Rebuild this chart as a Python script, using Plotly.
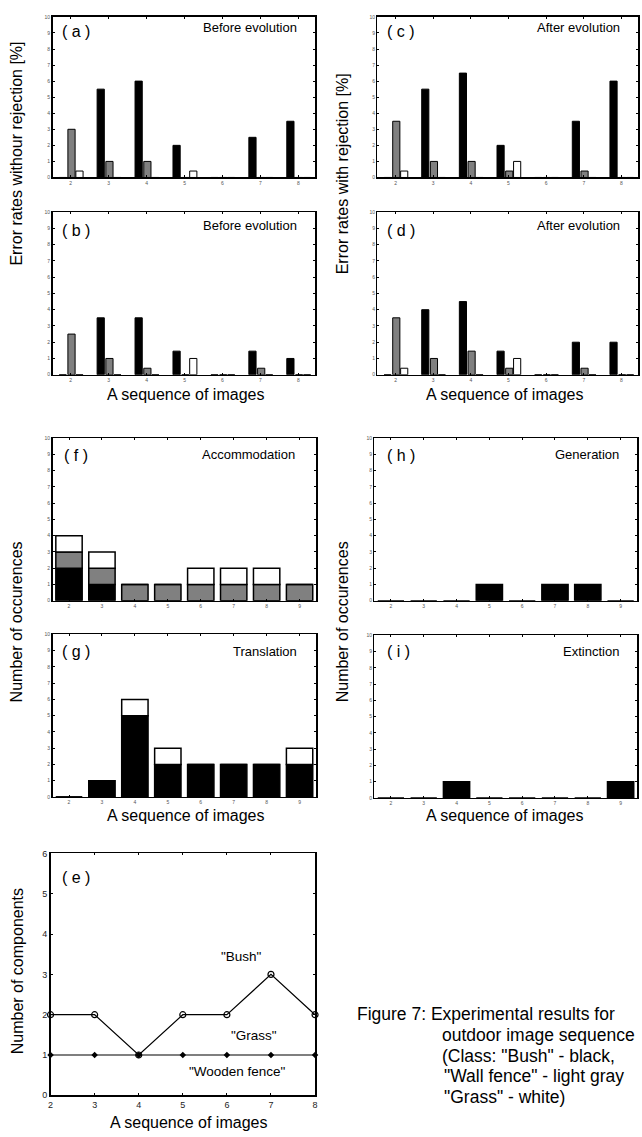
import numpy as np
import plotly.graph_objects as go

W, H = 642, 1137

# ---------------- data ----------------
seq7 = [2, 3, 4, 5, 6, 7, 8]
seq8 = [2, 3, 4, 5, 6, 7, 8, 9]

# (a) before evolution, without rejection
a_bush = [0, 5.5, 6.0, 2.0, 0, 2.5, 3.5]
a_wall = [3.0, 1.0, 1.0, 0, 0, 0, 0]
a_grass = [0.4, 0, 0, 0.4, 0, 0, 0]
# (c) after evolution, without rejection
c_bush = [0, 5.5, 6.5, 2.0, 0, 3.5, 6.0]
c_wall = [3.5, 1.0, 1.0, 0.4, 0, 0.4, 0]
c_grass = [0.4, 0, 0, 1.0, 0, 0, 0]
# (b) before evolution, with rejection
b_bush = [0, 3.5, 3.5, 1.45, 0, 1.45, 1.0]
b_wall = [2.5, 1.0, 0.4, 0, 0, 0.4, 0]
b_grass = [0, 0, 0, 1.0, 0, 0, 0]
# (d) after evolution, with rejection
d_bush = [0, 4.0, 4.5, 1.45, 0, 2.0, 2.0]
d_wall = [3.5, 1.0, 1.45, 0.4, 0, 0.4, 0]
d_grass = [0.4, 0, 0, 1.0, 0, 0, 0]

# (f) accommodation (stacked)
f_bush = [2, 1, 0, 0, 0, 0, 0, 0]
f_wall = [1, 1, 1, 1, 1, 1, 1, 1]
f_grass = [1, 1, 0, 0, 1, 1, 1, 0]
# (g) translation (stacked)
g_bush = [0, 1, 5, 2, 2, 2, 2, 2]
g_grass = [0, 0, 1, 1, 0, 0, 0, 1]
# (h) generation, (i) extinction
h_bush = [0, 0, 0, 1, 0, 1, 1, 0]
i_bush = [0, 0, 1, 0, 0, 0, 0, 1]

# (e) number of components
e_bush = [2, 2, 1, 2, 2, 3, 2]
e_grass = [1, 1, 1, 1, 1, 1, 1]
e_fence = [1, 1, 1, 1, 1, 1, 1]

BLACK, GRAY, WHITE = "#000000", "#808080", "#ffffff"
FONT = "Liberation Sans, Arial, sans-serif"

fig = go.Figure()


def px_x(p):
    return p / W


def px_y(p):
    return 1 - p / H


panels = {
    # name: (x0, x1, ytop, ybottom) in pixels
    "a": (50, 315, 12, 174),
    "c": (378, 641, 12, 174),
    "b": (50, 315, 209, 373),
    "d": (378, 641, 209, 373),
    "f": (50, 316, 437, 601),
    "h": (375, 640, 437, 601),
    "g": (50, 316, 635, 799),
    "i": (375, 640, 636, 800),
    "e": (48, 315, 856, 1100),
}

layout_axes = {}
refs = {}
for k, name in enumerate(["a", "c", "b", "d", "f", "h", "g", "i", "e"]):
    n = k + 1
    xa = "xaxis" if n == 1 else f"xaxis{n}"
    ya = "yaxis" if n == 1 else f"yaxis{n}"
    xr = "x" if n == 1 else f"x{n}"
    yr = "y" if n == 1 else f"y{n}"
    refs[name] = (xr, yr)
    x0, x1, yt, yb = panels[name]
    if name in "acbd":
        xrange = [1.52, 8.44]
        xt = seq7
        yrange = [0, 10]
        yt_vals = list(range(0, 11))
        tf = 5
    elif name in "fhgi":
        xrange = [1.5, 9.5]
        xt = seq8
        yrange = [0, 10]
        yt_vals = list(range(0, 11))
        tf = 5
    else:
        xrange = [2, 8]
        xt = seq7
        yrange = [0, 6]
        yt_vals = list(range(0, 7))
        tf = 9
    tcol = "#555555" if tf < 8 else "#222222"
    layout_axes[xa] = dict(
        domain=[px_x(x0), px_x(x1)], anchor=yr, range=xrange,
        tickvals=xt, ticks="inside", ticklen=2, tickcolor="black",
        showline=True, linecolor="black", linewidth=1.5, mirror="allticks",
        showgrid=False, zeroline=False,
        tickfont=dict(size=tf, color=tcol, family=FONT),
    )
    layout_axes[ya] = dict(
        domain=[px_y(yb), px_y(yt)], anchor=xr, range=yrange,
        tickvals=yt_vals, ticks="inside", ticklen=2, tickcolor="black",
        showline=True, linecolor="black", linewidth=1.5, mirror="allticks",
        showgrid=False, zeroline=False,
        tickfont=dict(size=tf, color=tcol, family=FONT),
    )

# grouped error-rate bars
BW = 0.19
offsets = [-0.305, -0.075, 0.135]
for name, series in [("a", (a_bush, a_wall, a_grass)),
                     ("c", (c_bush, c_wall, c_grass)),
                     ("b", (b_bush, b_wall, b_grass)),
                     ("d", (d_bush, d_wall, d_grass))]:
    xr, yr = refs[name]
    for vals, col, off in zip(series, (BLACK, GRAY, WHITE), offsets):
        fig.add_trace(go.Bar(
            x=seq7, y=vals, width=BW, offset=off, xaxis=xr, yaxis=yr,
            marker=dict(color=col, line=dict(color="black", width=1)),
            showlegend=False))

# stacked occurrence bars
SW = 0.8


def stacked(name, layers):
    xr, yr = refs[name]
    base = np.zeros(len(seq8))
    for vals, col in layers:
        v = np.array(vals, dtype=float)
        fig.add_trace(go.Bar(
            x=seq8, y=v, base=base.copy(), width=SW, xaxis=xr, yaxis=yr,
            marker=dict(color=col, line=dict(color="black", width=1.5)),
            showlegend=False))
        base = base + v


stacked("f", [(f_bush, BLACK), (f_wall, GRAY), (f_grass, WHITE)])
stacked("g", [(g_bush, BLACK), (g_grass, WHITE)])
stacked("h", [(h_bush, BLACK)])
stacked("i", [(i_bush, BLACK)])

# line plot (e)
xr, yr = refs["e"]
fig.add_trace(go.Scatter(x=seq7, y=e_fence, mode="lines", xaxis=xr, yaxis=yr,
                         line=dict(color="black", width=1.2), showlegend=False,
                         cliponaxis=False))
fig.add_trace(go.Scatter(x=seq7, y=e_grass, mode="markers", xaxis=xr, yaxis=yr,
                         marker=dict(symbol="diamond", size=5, color="black"),
                         showlegend=False, cliponaxis=False))
fig.add_trace(go.Scatter(x=seq7, y=e_bush, mode="lines+markers", xaxis=xr, yaxis=yr,
                         line=dict(color="black", width=1.2),
                         marker=dict(symbol="circle-open", size=6, color="black",
                                     line=dict(width=1.2)),
                         showlegend=False, cliponaxis=False))

ann = []


def text(x, y, s, size=12, xanchor="left", angle=0):
    ann.append(dict(x=px_x(x), y=px_y(y), xref="paper", yref="paper", text=s,
                    showarrow=False, xanchor=xanchor, yanchor="middle",
                    textangle=angle, font=dict(size=size, color="black", family=FONT)))


# panel labels and titles
for lab, (x, y) in {"( a )": (58, 27), "( b )": (58, 227), "( c )": (386, 27),
                    "( d )": (386, 227), "( f )": (60, 455), "( h )": (386, 455),
                    "( g )": (58, 652), "( i )": (386, 652), "( e )": (58, 880)}.items():
    text(x, y, lab, size=16)
TS = 13
text(299, 23, "Before evolution", TS, "right")
text(299, 222, "Before evolution", TS, "right")
text(625, 23, "After evolution", TS, "right")
text(625, 222, "After evolution", TS, "right")
text(297, 453, "Accommodation", TS, "right")
text(624, 453, "Generation", TS, "right")
text(299, 652, "Translation", TS, "right")
text(624, 652, "Extinction", TS, "right")

# axis titles
AS = 16
text(14, 150, "Error rates withour rejection [%]", AS, "center", -90)
text(343, 170, "Error rates with rejection [%]", AS, "center", -90)
text(184, 393, "A sequence of images", AS, "center")
text(506, 393, "A sequence of images", AS, "center")
text(14, 622, "Number of occurences", AS, "center", -90)
text(343, 622, "Number of occurences", AS, "center", -90)
text(184, 818, "A sequence of images", AS, "center")
text(506, 818, "A sequence of images", AS, "center")
text(15, 975, "Number of components", AS, "center", -90)
text(187, 1127, "A sequence of images", AS, "center")

# line labels in (e)
text(241, 960, "\"Bush\"", 13.5, "center")
text(253, 1040, "\"Grass\"", 13.5, "center")
text(237, 1076, "\"Wooden fence\"", 13.5, "center")

# caption
CS = 17.5
text(355, 1018, "Figure 7: Experimental results for", CS)
text(441, 1039, "outdoor image sequence", CS)
text(441, 1060, "(Class: \"Bush\" - black,", CS)
text(443, 1081, "\"Wall fence\" - light gray", CS)
text(443, 1102, "\"Grass\" - white)", CS)

fig.update_layout(
    width=W, height=H, margin=dict(l=0, r=0, t=0, b=0),
    paper_bgcolor="white", plot_bgcolor="white",
    barmode="overlay", showlegend=False,
    font=dict(family=FONT, color="black"),
    annotations=ann,
    **layout_axes,
)

fig.write_html("out.html",
               config={"displayModeBar": False, "staticPlot": True},
               post_script="document.body.style.margin='0';document.body.style.padding='0';")
